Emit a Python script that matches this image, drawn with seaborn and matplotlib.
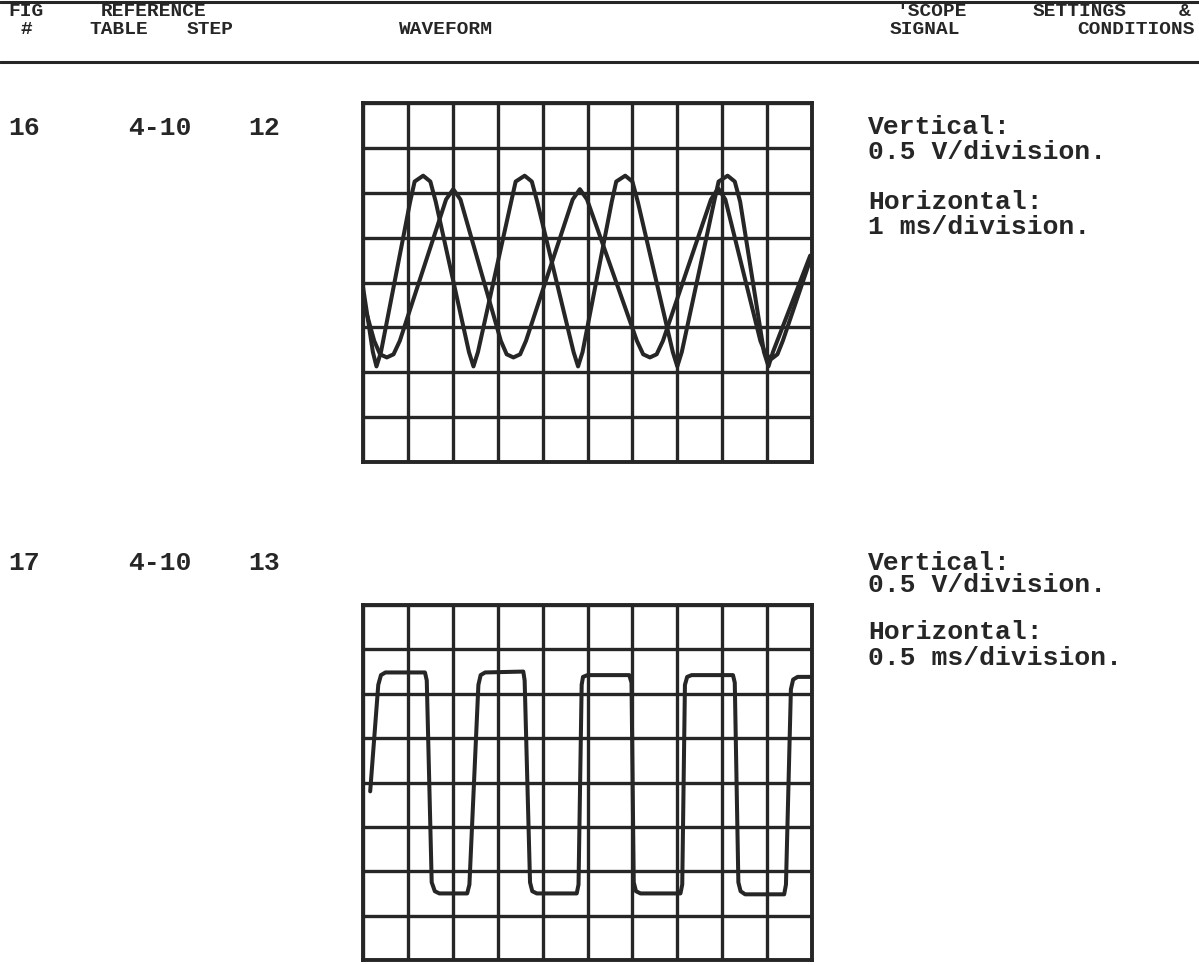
import numpy as np
import pandas as pd
import matplotlib
matplotlib.use("Agg")
import matplotlib.pyplot as plt
import seaborn as sns

# ---------------- data (divisions) ----------------
# Figure 16: trace A (rounded peaks, V-shaped troughs)
w16a_t = [0.0, 0.22, 0.30, 0.40, 1.05, 1.15, 1.34, 1.50, 1.62, 2.36, 2.46, 2.56,
          3.30, 3.40, 3.60, 3.76, 3.88, 4.69, 4.79, 4.89, 5.54, 5.64, 5.84, 6.00,
          6.12, 6.90, 7.00, 7.10, 7.82, 7.92, 8.12, 8.28, 8.40, 8.93, 9.03, 9.13, 9.96]
w16a_v = [3.90, 2.45, 2.13, 2.45, 5.80, 6.25, 6.38, 6.25, 5.80, 2.45, 2.13, 2.45,
          5.80, 6.25, 6.38, 6.25, 5.80, 2.45, 2.13, 2.45, 5.80, 6.25, 6.38, 6.25,
          5.80, 2.45, 2.13, 2.45, 5.80, 6.25, 6.38, 6.25, 5.80, 2.45, 2.13, 2.45, 4.60]
# Figure 16: trace B (pointed peaks, rounded troughs)
w16b_t = [0.0, 0.25, 0.38, 0.53, 0.68, 0.82, 1.85, 2.01, 2.17, 3.07, 3.20, 3.35,
          3.50, 3.63, 4.67, 4.83, 4.99, 6.10, 6.24, 6.39, 6.54, 6.68, 7.75, 7.91,
          8.07, 8.85, 8.97, 9.10, 9.23, 9.35, 9.96]
w16b_v = [3.60, 2.70, 2.40, 2.33, 2.40, 2.70, 5.85, 6.08, 5.85, 2.70, 2.40, 2.33,
          2.40, 2.70, 5.85, 6.08, 5.85, 2.70, 2.40, 2.33, 2.40, 2.70, 5.85, 6.10,
          5.85, 2.70, 2.40, 2.30, 2.40, 2.70, 4.50]
# Figure 17: square wave
w17_t = [0.16, 0.34, 0.40, 0.50, 1.38, 1.42, 1.53, 1.60, 1.70, 2.32, 2.37, 2.57,
         2.62, 2.72, 3.57, 3.60, 3.72, 3.77, 3.87, 4.76, 4.80, 4.87, 4.90, 5.00,
         5.93, 5.98, 6.03, 6.08, 6.18, 7.07, 7.11, 7.17, 7.22, 7.32, 8.24, 8.28,
         8.36, 8.41, 8.51, 9.38, 9.42, 9.53, 9.58, 9.68, 10.0]
w17_v = [3.80, 6.20, 6.42, 6.48, 6.48, 6.30, 1.75, 1.55, 1.50, 1.50, 1.70, 6.20,
         6.42, 6.48, 6.50, 6.30, 1.75, 1.55, 1.50, 1.50, 1.70, 6.20, 6.38, 6.42,
         6.42, 6.25, 1.75, 1.55, 1.50, 1.50, 1.70, 6.20, 6.38, 6.42, 6.42, 6.25,
         1.75, 1.55, 1.48, 1.48, 1.70, 6.10, 6.32, 6.38, 6.38]

fig_nums = ["16", "17"]
ref_tables = ["4-10", "4-10"]
steps = ["12", "13"]
vert_settings = ["0.5 V/division.", "0.5 V/division."]
horiz_settings = ["1 ms/division.", "0.5 ms/division."]

# ---------------- style ----------------
sns.set_style("white")
plt.rcParams["font.family"] = ["Liberation Mono", "DejaVu Sans Mono"]
INK = "#262626"

W, H = 1199, 965
fig = plt.figure(figsize=(W / 100, H / 100), dpi=100)
fig.patch.set_facecolor("white")


def fx(px):
    return px / W


def fy(py):
    return 1 - py / H


def txt(x, y, s, size=14, ha="left"):
    fig.text(fx(x), fy(y), s, ha=ha, va="center", fontsize=size,
             fontweight="bold", color=INK)


# header
for yy in (2, 62):
    fig.add_artist(plt.Line2D([0, 1], [fy(yy), fy(yy)], color=INK, lw=2.2,
                              transform=fig.transFigure))
txt(26, 12, "FIG", ha="center")
txt(26, 30, "#", ha="center")
txt(154, 12, "REFERENCE", ha="center")
txt(119, 30, "TABLE", ha="center")
txt(210, 30, "STEP", ha="center")
txt(446, 30, "WAVEFORM", ha="center")
txt(932, 12, "'SCOPE", ha="center")
txt(1080, 12, "SETTINGS", ha="center")
txt(1185, 12, "&", ha="center")
txt(925, 30, "SIGNAL", ha="center")
txt(1195, 30, "CONDITIONS", ha="right")


def scope(rect, traces):
    x0, y0, x1, y1 = rect
    ax = fig.add_axes([fx(x0), fy(y1), fx(x1 - x0), (y1 - y0) / H])
    for t, v in traces:
        df = pd.DataFrame({"t": t, "v": v})
        sns.lineplot(data=df, x="t", y="v", sort=False, estimator=None, ax=ax,
                     color=INK, lw=2.9, zorder=3)
    ax.set_xlim(0, 10)
    ax.set_ylim(0, 8)
    ax.set_xticks(np.arange(0, 11))
    ax.set_yticks(np.arange(0, 9))
    ax.set_xticklabels([])
    ax.set_yticklabels([])
    ax.tick_params(length=0)
    ax.set_xlabel("")
    ax.set_ylabel("")
    ax.grid(True, color=INK, lw=2.4)
    ax.set_axisbelow(True)
    for s in ax.spines.values():
        s.set_visible(True)
        s.set_color(INK)
        s.set_linewidth(2.8)
    ax.set_facecolor("white")
    return ax


scope((363, 103, 812, 462), [(w16a_t, w16a_v), (w16b_t, w16b_v)])
scope((363, 605, 812, 960), [(w17_t, w17_v)])

# row labels and settings
rows_y = [128, 563]
set_y = [(127, 152, 202, 227), (563, 585, 632, 658)]
for i in range(2):
    txt(8, rows_y[i], fig_nums[i], size=19)
    txt(128, rows_y[i], ref_tables[i], size=19)
    txt(248, rows_y[i], steps[i], size=19)
    a, b, c, d = set_y[i]
    txt(868, a, "Vertical:", size=19)
    txt(868, b, vert_settings[i], size=19)
    txt(868, c, "Horizontal:", size=19)
    txt(868, d, horiz_settings[i], size=19)

fig.savefig("out.png", dpi=100, facecolor="white")
